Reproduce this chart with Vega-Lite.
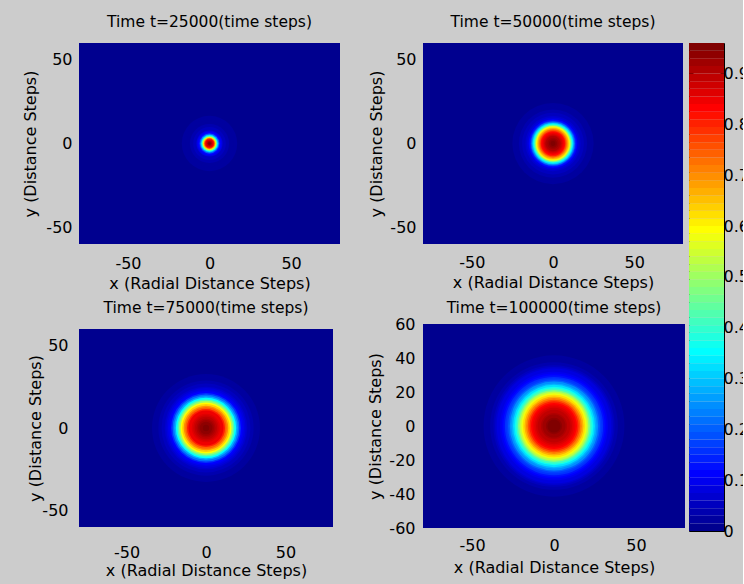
{
  "$schema": "https://vega.github.io/schema/vega-lite/v6.json",
  "background": "#CCCCCC",
  "padding": {"left": 22, "top": 14, "right": -6, "bottom": 6},
  "config": {
    "font": "DejaVu Sans",
    "view": {"stroke": null},
    "axis": {"labelFont": "DejaVu Sans", "labelFontSize": 16, "labelColor": "#000", "titleFont": "DejaVu Sans", "titleFontSize": 16, "titleFontWeight": "normal", "titleColor": "#000", "domain": false, "ticks": false, "tickSize": 0, "grid": false, "labelFlush": false, "labelOverlap": false},
    "title": {"font": "DejaVu Sans", "fontSize": 15.5, "fontWeight": "normal", "color": "#000", "anchor": "middle", "frame": "group", "baseline": "bottom"}
  },
  "datasets": {
    "p1": [
      {"r": 17, "v": 0.0155}, {"r": 16, "v": 0.0165}, {"r": 15, "v": 0.018}, {"r": 14, "v": 0.021}, {"r": 13, "v": 0.025}, {"r": 12, "v": 0.030}, {"r": 11, "v": 0.036}, {"r": 10, "v": 0.045}, {"r": 9, "v": 0.058}, {"r": 8, "v": 0.077}, {"r": 7.5, "v": 0.091}, {"r": 7, "v": 0.110}, {"r": 6.5, "v": 0.134}, {"r": 6, "v": 0.202}, {"r": 5.5, "v": 0.278}, {"r": 5, "v": 0.360}, {"r": 4.5, "v": 0.480}, {"r": 4, "v": 0.600}, {"r": 3.5, "v": 0.701}, {"r": 3, "v": 0.797}, {"r": 2.5, "v": 0.850}, {"r": 2, "v": 0.883}, {"r": 1.5, "v": 0.912}, {"r": 1, "v": 0.931}, {"r": 0.5, "v": 0.96}
    ],
    "p2": [
      {"r": 25, "v": 0.0155}, {"r": 24, "v": 0.017}, {"r": 23, "v": 0.020}, {"r": 22, "v": 0.024}, {"r": 21, "v": 0.030}, {"r": 20, "v": 0.036}, {"r": 19, "v": 0.045}, {"r": 18, "v": 0.056}, {"r": 17, "v": 0.067}, {"r": 16, "v": 0.082}, {"r": 15, "v": 0.106}, {"r": 14.5, "v": 0.125}, {"r": 14, "v": 0.163}, {"r": 13.5, "v": 0.211}, {"r": 13, "v": 0.259}, {"r": 12.5, "v": 0.317}, {"r": 12, "v": 0.374}, {"r": 11.5, "v": 0.442}, {"r": 11, "v": 0.509}, {"r": 10.5, "v": 0.576}, {"r": 10, "v": 0.619}, {"r": 9.5, "v": 0.662}, {"r": 9, "v": 0.701}, {"r": 8.5, "v": 0.739}, {"r": 8, "v": 0.778}, {"r": 7.5, "v": 0.811}, {"r": 7, "v": 0.835}, {"r": 6.5, "v": 0.850}, {"r": 6, "v": 0.859}, {"r": 5.5, "v": 0.874}, {"r": 5, "v": 0.888}, {"r": 4.5, "v": 0.902}, {"r": 4, "v": 0.912}, {"r": 3.5, "v": 0.919}, {"r": 3, "v": 0.926}, {"r": 2.5, "v": 0.936}, {"r": 2, "v": 0.941}, {"r": 1.5, "v": 0.950}, {"r": 1, "v": 0.955}, {"r": 0.5, "v": 0.96}
    ],
    "p3": [
      {"r": 34, "v": 0.0155}, {"r": 33, "v": 0.018}, {"r": 32, "v": 0.022}, {"r": 31, "v": 0.027}, {"r": 30, "v": 0.034}, {"r": 29, "v": 0.040}, {"r": 28, "v": 0.048}, {"r": 27, "v": 0.058}, {"r": 26, "v": 0.067}, {"r": 25, "v": 0.082}, {"r": 24, "v": 0.096}, {"r": 23, "v": 0.115}, {"r": 22, "v": 0.154}, {"r": 21, "v": 0.221}, {"r": 20, "v": 0.278}, {"r": 19, "v": 0.355}, {"r": 18, "v": 0.432}, {"r": 17, "v": 0.504}, {"r": 16, "v": 0.586}, {"r": 15, "v": 0.634}, {"r": 14, "v": 0.691}, {"r": 13, "v": 0.749}, {"r": 12, "v": 0.797}, {"r": 11, "v": 0.840}, {"r": 10, "v": 0.854}, {"r": 9, "v": 0.869}, {"r": 8, "v": 0.883}, {"r": 7, "v": 0.898}, {"r": 6, "v": 0.912}, {"r": 5, "v": 0.922}, {"r": 4, "v": 0.931}, {"r": 3, "v": 0.941}, {"r": 2, "v": 0.950}, {"r": 1, "v": 0.960}
    ],
    "p4": [
      {"r": 43, "v": 0.0155}, {"r": 42, "v": 0.019}, {"r": 41, "v": 0.024}, {"r": 40, "v": 0.029}, {"r": 39, "v": 0.035}, {"r": 38, "v": 0.041}, {"r": 37, "v": 0.050}, {"r": 36, "v": 0.060}, {"r": 35, "v": 0.075}, {"r": 34, "v": 0.086}, {"r": 33, "v": 0.101}, {"r": 32, "v": 0.115}, {"r": 31, "v": 0.134}, {"r": 30, "v": 0.154}, {"r": 29, "v": 0.178}, {"r": 28, "v": 0.206}, {"r": 27, "v": 0.240}, {"r": 26, "v": 0.278}, {"r": 25, "v": 0.322}, {"r": 24, "v": 0.360}, {"r": 23, "v": 0.413}, {"r": 22, "v": 0.470}, {"r": 21, "v": 0.533}, {"r": 20, "v": 0.581}, {"r": 19, "v": 0.624}, {"r": 18, "v": 0.672}, {"r": 17, "v": 0.715}, {"r": 16, "v": 0.758}, {"r": 15, "v": 0.797}, {"r": 14, "v": 0.835}, {"r": 13, "v": 0.847}, {"r": 12, "v": 0.859}, {"r": 11, "v": 0.872}, {"r": 10, "v": 0.885}, {"r": 9, "v": 0.898}, {"r": 8, "v": 0.912}, {"r": 7, "v": 0.922}, {"r": 6, "v": 0.929}, {"r": 5, "v": 0.936}, {"r": 4, "v": 0.946}, {"r": 3, "v": 0.950}, {"r": 2, "v": 0.955}, {"r": 1, "v": 0.96}
    ],
    "cbar": [
      {"lo": 0, "hi": 0.015, "v": 0.0075}, {"lo": 0.015, "hi": 0.03, "v": 0.0225}, {"lo": 0.03, "hi": 0.045, "v": 0.0375}, {"lo": 0.045, "hi": 0.06, "v": 0.0525},
      {"lo": 0.06, "hi": 0.075, "v": 0.0675}, {"lo": 0.075, "hi": 0.09, "v": 0.0825}, {"lo": 0.09, "hi": 0.105, "v": 0.0975}, {"lo": 0.105, "hi": 0.12, "v": 0.1125},
      {"lo": 0.12, "hi": 0.135, "v": 0.1275}, {"lo": 0.135, "hi": 0.15, "v": 0.1425}, {"lo": 0.15, "hi": 0.165, "v": 0.1575}, {"lo": 0.165, "hi": 0.18, "v": 0.1725},
      {"lo": 0.18, "hi": 0.195, "v": 0.1875}, {"lo": 0.195, "hi": 0.21, "v": 0.2025}, {"lo": 0.21, "hi": 0.225, "v": 0.2175}, {"lo": 0.225, "hi": 0.24, "v": 0.2325},
      {"lo": 0.24, "hi": 0.255, "v": 0.2475}, {"lo": 0.255, "hi": 0.27, "v": 0.2625}, {"lo": 0.27, "hi": 0.285, "v": 0.2775}, {"lo": 0.285, "hi": 0.3, "v": 0.2925},
      {"lo": 0.3, "hi": 0.315, "v": 0.3075}, {"lo": 0.315, "hi": 0.33, "v": 0.3225}, {"lo": 0.33, "hi": 0.345, "v": 0.3375}, {"lo": 0.345, "hi": 0.36, "v": 0.3525},
      {"lo": 0.36, "hi": 0.375, "v": 0.3675}, {"lo": 0.375, "hi": 0.39, "v": 0.3825}, {"lo": 0.39, "hi": 0.405, "v": 0.3975}, {"lo": 0.405, "hi": 0.42, "v": 0.4125},
      {"lo": 0.42, "hi": 0.435, "v": 0.4275}, {"lo": 0.435, "hi": 0.45, "v": 0.4425}, {"lo": 0.45, "hi": 0.465, "v": 0.4575}, {"lo": 0.465, "hi": 0.48, "v": 0.4725},
      {"lo": 0.48, "hi": 0.495, "v": 0.4875}, {"lo": 0.495, "hi": 0.51, "v": 0.5025}, {"lo": 0.51, "hi": 0.525, "v": 0.5175}, {"lo": 0.525, "hi": 0.54, "v": 0.5325},
      {"lo": 0.54, "hi": 0.555, "v": 0.5475}, {"lo": 0.555, "hi": 0.57, "v": 0.5625}, {"lo": 0.57, "hi": 0.585, "v": 0.5775}, {"lo": 0.585, "hi": 0.6, "v": 0.5925},
      {"lo": 0.6, "hi": 0.615, "v": 0.6075}, {"lo": 0.615, "hi": 0.63, "v": 0.6225}, {"lo": 0.63, "hi": 0.645, "v": 0.6375}, {"lo": 0.645, "hi": 0.66, "v": 0.6525},
      {"lo": 0.66, "hi": 0.675, "v": 0.6675}, {"lo": 0.675, "hi": 0.69, "v": 0.6825}, {"lo": 0.69, "hi": 0.705, "v": 0.6975}, {"lo": 0.705, "hi": 0.72, "v": 0.7125},
      {"lo": 0.72, "hi": 0.735, "v": 0.7275}, {"lo": 0.735, "hi": 0.75, "v": 0.7425}, {"lo": 0.75, "hi": 0.765, "v": 0.7575}, {"lo": 0.765, "hi": 0.78, "v": 0.7725},
      {"lo": 0.78, "hi": 0.795, "v": 0.7875}, {"lo": 0.795, "hi": 0.81, "v": 0.8025}, {"lo": 0.81, "hi": 0.825, "v": 0.8175}, {"lo": 0.825, "hi": 0.84, "v": 0.8325},
      {"lo": 0.84, "hi": 0.855, "v": 0.8475}, {"lo": 0.855, "hi": 0.87, "v": 0.8625}, {"lo": 0.87, "hi": 0.885, "v": 0.8775}, {"lo": 0.885, "hi": 0.9, "v": 0.8925},
      {"lo": 0.9, "hi": 0.915, "v": 0.9075}, {"lo": 0.915, "hi": 0.93, "v": 0.9225}, {"lo": 0.93, "hi": 0.945, "v": 0.9375}, {"lo": 0.945, "hi": 0.96, "v": 0.9525}
    ]
  },
  "resolve": {"scale": {"size": "independent"}},
  "spacing": 3,
  "hconcat": [
    {
      "spacing": 27,
      "resolve": {"scale": {"size": "independent"}},
      "hconcat": [
        {
          "spacing": 9,
          "resolve": {"scale": {"size": "independent"}},
          "vconcat": [
            {
              "width": 261, "height": 201,
              "title": {"text": "Time t=25000(time steps)", "offset": 13},
              "data": {"name": "p1"},
              "view": {"fill": "#00008F", "stroke": null},
              "mark": {"type": "point", "shape": "circle", "filled": true, "opacity": 1, "strokeWidth": 0, "clip": true},
              "encoding": {
                "x": {"datum": 0, "type": "quantitative", "scale": {"domain": [-80, 80], "nice": false, "zero": false}, "axis": {"values": [-50, 0, 50], "labelExpr": "'' + datum.value", "title": "x (Radial Distance Steps)", "labelPadding": 11, "minExtent": 27, "maxExtent": 27, "titlePadding": 4}},
                "y": {"datum": 0, "type": "quantitative", "scale": {"domain": [-60, 60], "nice": false, "zero": false}, "axis": {"values": [-50, 0, 50], "labelExpr": "'' + datum.value", "title": "y (Distance Steps)", "labelPadding": 7, "minExtent": 33, "maxExtent": 33, "titlePadding": 8}},
                "size": {"field": "r", "type": "quantitative", "scale": {"type": "pow", "exponent": 2, "domain": [0, 80], "range": [0, 68121]}, "legend": null},
                "color": {"field": "v", "type": "quantitative", "scale": {"type": "quantize", "domain": [0, 0.96], "nice": false, "range": ["#00008F","#00009F","#0000AF","#0000BF","#0000CF","#0000DF","#0000EF","#0000FF","#0010FF","#0020FF","#0030FF","#0040FF","#0050FF","#0060FF","#0070FF","#0080FF","#008FFF","#009FFF","#00AFFF","#00BFFF","#00CFFF","#00DFFF","#00EFFF","#00FFFF","#10FFEF","#20FFDF","#30FFCF","#40FFBF","#50FFAF","#60FF9F","#70FF8F","#80FF80","#8FFF70","#9FFF60","#AFFF50","#BFFF40","#CFFF30","#DFFF20","#EFFF10","#FFFF00","#FFEF00","#FFDF00","#FFCF00","#FFBF00","#FFAF00","#FF9F00","#FF8F00","#FF8000","#FF7000","#FF6000","#FF5000","#FF4000","#FF3000","#FF2000","#FF1000","#FF0000","#EF0000","#DF0000","#CF0000","#BF0000","#AF0000","#9F0000","#8F0000","#800000"]}, "legend": null},
                "order": {"field": "r", "sort": "descending"}
              }
            },
            {
              "width": 254, "height": 198,
              "title": {"text": "Time t=75000(time steps)", "offset": 13},
              "data": {"name": "p3"},
              "view": {"fill": "#00008F", "stroke": null},
              "mark": {"type": "point", "shape": "circle", "filled": true, "opacity": 1, "strokeWidth": 0, "clip": true},
              "encoding": {
                "x": {"datum": 0, "type": "quantitative", "scale": {"domain": [-80, 80], "nice": false, "zero": false}, "axis": {"values": [-50, 0, 50], "labelExpr": "'' + datum.value", "title": "x (Radial Distance Steps)", "labelPadding": 17, "minExtent": 33, "maxExtent": 33, "titlePadding": 2}},
                "y": {"datum": 0, "type": "quantitative", "scale": {"domain": [-60, 60], "nice": false, "zero": false}, "axis": {"values": [-50, 0, 50], "labelExpr": "'' + datum.value", "title": "y (Distance Steps)", "labelPadding": 11, "minExtent": 36, "maxExtent": 36, "titlePadding": 0}},
                "size": {"field": "r", "type": "quantitative", "scale": {"type": "pow", "exponent": 2, "domain": [0, 80], "range": [0, 64516]}, "legend": null},
                "color": {"field": "v", "type": "quantitative", "scale": {"type": "quantize", "domain": [0, 0.96], "nice": false, "range": ["#00008F","#00009F","#0000AF","#0000BF","#0000CF","#0000DF","#0000EF","#0000FF","#0010FF","#0020FF","#0030FF","#0040FF","#0050FF","#0060FF","#0070FF","#0080FF","#008FFF","#009FFF","#00AFFF","#00BFFF","#00CFFF","#00DFFF","#00EFFF","#00FFFF","#10FFEF","#20FFDF","#30FFCF","#40FFBF","#50FFAF","#60FF9F","#70FF8F","#80FF80","#8FFF70","#9FFF60","#AFFF50","#BFFF40","#CFFF30","#DFFF20","#EFFF10","#FFFF00","#FFEF00","#FFDF00","#FFCF00","#FFBF00","#FFAF00","#FF9F00","#FF8F00","#FF8000","#FF7000","#FF6000","#FF5000","#FF4000","#FF3000","#FF2000","#FF1000","#FF0000","#EF0000","#DF0000","#CF0000","#BF0000","#AF0000","#9F0000","#8F0000","#800000"]}, "legend": null},
                "order": {"field": "r", "sort": "descending"}
              }
            }
          ]
        },
        {
          "spacing": 10,
          "resolve": {"scale": {"size": "independent"}},
          "vconcat": [
            {
              "width": 260, "height": 201,
              "title": {"text": "Time t=50000(time steps)", "offset": 13},
              "data": {"name": "p2"},
              "view": {"fill": "#00008F", "stroke": null},
              "mark": {"type": "point", "shape": "circle", "filled": true, "opacity": 1, "strokeWidth": 0, "clip": true},
              "encoding": {
                "x": {"datum": 0, "type": "quantitative", "scale": {"domain": [-80, 80], "nice": false, "zero": false}, "axis": {"values": [-50, 0, 50], "labelExpr": "'' + datum.value", "title": "x (Radial Distance Steps)", "labelPadding": 10, "minExtent": 26, "maxExtent": 26, "titlePadding": 4}},
                "y": {"datum": 0, "type": "quantitative", "scale": {"domain": [-60, 60], "nice": false, "zero": false}, "axis": {"values": [-50, 0, 50], "labelExpr": "'' + datum.value", "title": "y (Distance Steps)", "labelPadding": 7, "minExtent": 33, "maxExtent": 33, "titlePadding": 6}},
                "size": {"field": "r", "type": "quantitative", "scale": {"type": "pow", "exponent": 2, "domain": [0, 80], "range": [0, 67600]}, "legend": null},
                "color": {"field": "v", "type": "quantitative", "scale": {"type": "quantize", "domain": [0, 0.96], "nice": false, "range": ["#00008F","#00009F","#0000AF","#0000BF","#0000CF","#0000DF","#0000EF","#0000FF","#0010FF","#0020FF","#0030FF","#0040FF","#0050FF","#0060FF","#0070FF","#0080FF","#008FFF","#009FFF","#00AFFF","#00BFFF","#00CFFF","#00DFFF","#00EFFF","#00FFFF","#10FFEF","#20FFDF","#30FFCF","#40FFBF","#50FFAF","#60FF9F","#70FF8F","#80FF80","#8FFF70","#9FFF60","#AFFF50","#BFFF40","#CFFF30","#DFFF20","#EFFF10","#FFFF00","#FFEF00","#FFDF00","#FFCF00","#FFBF00","#FFAF00","#FF9F00","#FF8F00","#FF8000","#FF7000","#FF6000","#FF5000","#FF4000","#FF3000","#FF2000","#FF1000","#FF0000","#EF0000","#DF0000","#CF0000","#BF0000","#AF0000","#9F0000","#8F0000","#800000"]}, "legend": null},
                "order": {"field": "r", "sort": "descending"}
              }
            },
            {
              "width": 262, "height": 204,
              "title": {"text": "Time t=100000(time steps)", "offset": 0},
              "data": {"name": "p4"},
              "view": {"fill": "#00008F", "stroke": null},
              "mark": {"type": "point", "shape": "circle", "filled": true, "opacity": 1, "strokeWidth": 0, "clip": true},
              "encoding": {
                "x": {"datum": 0, "type": "quantitative", "scale": {"domain": [-80, 80], "nice": false, "zero": false}, "axis": {"values": [-50, 0, 50], "labelExpr": "'' + datum.value", "title": "x (Radial Distance Steps)", "labelPadding": 9, "minExtent": 25, "maxExtent": 25, "titlePadding": 6}},
                "y": {"datum": 0, "type": "quantitative", "scale": {"domain": [-60, 60], "nice": false, "zero": false}, "axis": {"values": [-60, -40, -20, 0, 20, 40, 60], "labelExpr": "'' + datum.value", "title": "y (Distance Steps)", "labelPadding": 8, "minExtent": 34, "maxExtent": 34, "titlePadding": 6}},
                "size": {"field": "r", "type": "quantitative", "scale": {"type": "pow", "exponent": 2, "domain": [0, 80], "range": [0, 68644]}, "legend": null},
                "color": {"field": "v", "type": "quantitative", "scale": {"type": "quantize", "domain": [0, 0.96], "nice": false, "range": ["#00008F","#00009F","#0000AF","#0000BF","#0000CF","#0000DF","#0000EF","#0000FF","#0010FF","#0020FF","#0030FF","#0040FF","#0050FF","#0060FF","#0070FF","#0080FF","#008FFF","#009FFF","#00AFFF","#00BFFF","#00CFFF","#00DFFF","#00EFFF","#00FFFF","#10FFEF","#20FFDF","#30FFCF","#40FFBF","#50FFAF","#60FF9F","#70FF8F","#80FF80","#8FFF70","#9FFF60","#AFFF50","#BFFF40","#CFFF30","#DFFF20","#EFFF10","#FFFF00","#FFEF00","#FFDF00","#FFCF00","#FFBF00","#FFAF00","#FF9F00","#FF8F00","#FF8000","#FF7000","#FF6000","#FF5000","#FF4000","#FF3000","#FF2000","#FF1000","#FF0000","#EF0000","#DF0000","#CF0000","#BF0000","#AF0000","#9F0000","#8F0000","#800000"]}, "legend": null},
                "order": {"field": "r", "sort": "descending"}
              }
            }
          ]
        }
      ]
    },
    {
      "width": 35, "height": 488,
      "title": {"text": " ", "offset": 13},
      "data": {"name": "cbar"},
      "view": {"stroke": "#000", "strokeWidth": 1},
      "layer": [
        {
          "mark": {"type": "rect"},
          "encoding": {
            "x": {"datum": 0, "type": "quantitative", "scale": {"domain": [0, 1], "nice": false, "zero": false}, "axis": null},
            "x2": {"datum": 1},
            "y": {"field": "lo", "type": "quantitative", "scale": {"domain": [0, 0.96], "nice": false, "zero": false}, "axis": {"orient": "right", "values": [0, 0.1, 0.2, 0.3, 0.4, 0.5, 0.6, 0.7, 0.8, 0.9], "labelExpr": "'' + datum.value", "ticks": true, "tickSize": -4, "tickColor": "#000", "labelPadding": 3, "title": null}},
            "y2": {"field": "hi"},
            "color": {"field": "v", "type": "quantitative", "scale": {"type": "quantize", "domain": [0, 0.96], "nice": false, "range": ["#00008F","#00009F","#0000AF","#0000BF","#0000CF","#0000DF","#0000EF","#0000FF","#0010FF","#0020FF","#0030FF","#0040FF","#0050FF","#0060FF","#0070FF","#0080FF","#008FFF","#009FFF","#00AFFF","#00BFFF","#00CFFF","#00DFFF","#00EFFF","#00FFFF","#10FFEF","#20FFDF","#30FFCF","#40FFBF","#50FFAF","#60FF9F","#70FF8F","#80FF80","#8FFF70","#9FFF60","#AFFF50","#BFFF40","#CFFF30","#DFFF20","#EFFF10","#FFFF00","#FFEF00","#FFDF00","#FFCF00","#FFBF00","#FFAF00","#FF9F00","#FF8F00","#FF8000","#FF7000","#FF6000","#FF5000","#FF4000","#FF3000","#FF2000","#FF1000","#FF0000","#EF0000","#DF0000","#CF0000","#BF0000","#AF0000","#9F0000","#8F0000","#800000"]}, "legend": null}
          }
        },
        {
          "mark": {"type": "rect", "opacity": 0},
          "encoding": {
            "x": {"datum": 0, "type": "quantitative", "axis": null},
            "x2": {"datum": 1},
            "y": {"field": "lo", "type": "quantitative", "axis": {"orient": "left", "values": [0.1, 0.2, 0.3, 0.4, 0.5, 0.6, 0.7, 0.8, 0.9], "labels": false, "ticks": true, "tickSize": -4, "tickColor": "#000", "title": null}},
            "y2": {"field": "hi"}
          }
        }
      ],
      "resolve": {"axis": {"y": "independent"}}
    }
  ]
}
